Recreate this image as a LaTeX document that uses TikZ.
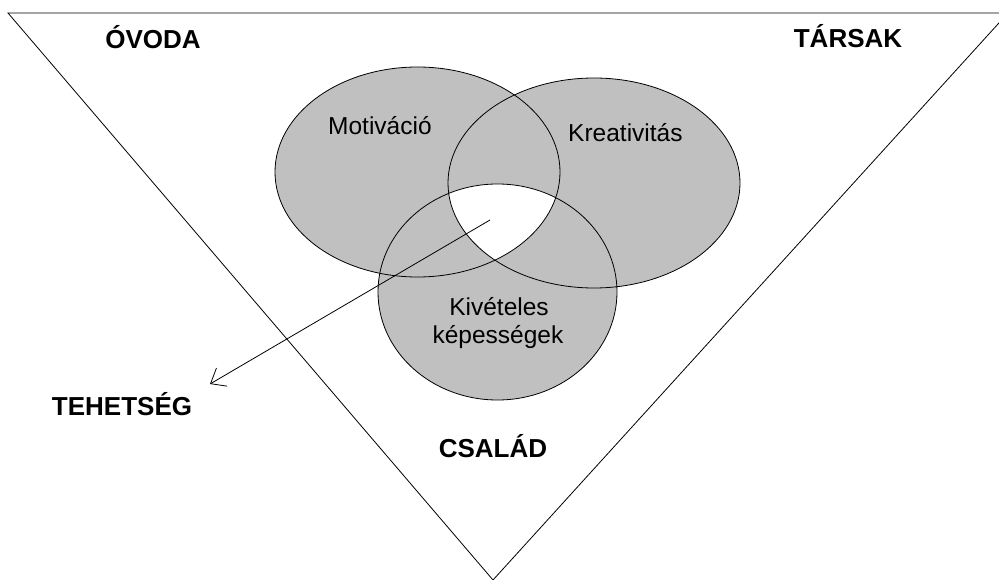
\documentclass[tikz,border=0pt]{standalone}
\usepackage{fontspec}
\setmainfont{Liberation Sans}
\usetikzlibrary{arrows.meta}
\definecolor{venngray}{HTML}{C0C0C0}
\tikzset{
  edge/.style={line width=0.8pt, draw=black},
  biglabel/.style={font=\fontsize{26}{30}\selectfont\bfseries, inner sep=0pt, anchor=base},
  smalllabel/.style={font=\fontsize{24.5}{28}\selectfont, inner sep=0pt, anchor=base},
  pointer/.style={line width=0.8pt, -{Straight Barb[length=13pt,width=21pt,line width=0.8pt]}}
}
\begin{document}
\begin{tikzpicture}[x=1pt,y=-1pt]
\useasboundingbox (0,0) rectangle (999,580);
\clip (0,0) rectangle (999,580);
\fill[white] (0,0) rectangle (999,580);
% triangle
\coordinate (L) at (8,13);
\coordinate (R) at (1008,13);
\coordinate (B) at (493,580);
\draw[edge] (L) -- (R) -- (B) -- cycle;
% ellipses
\def\ellA{(417.5,172) ellipse [x radius=142.5, y radius=105]}
\def\ellB{(594,183) ellipse [x radius=146, y radius=105]}
\def\ellC{(497.5,292) ellipse [x radius=119.5, y radius=108]}
\fill[venngray] \ellA;
\fill[venngray] \ellB;
\fill[venngray] \ellC;
\begin{scope}
  \clip \ellA;
  \clip \ellB;
  \fill[white] \ellC;
\end{scope}
\draw[edge] \ellA;
\draw[edge] \ellB;
\draw[edge] \ellC;
% labels
\node[biglabel] (ovoda) at (153,49) {ÓVODA};
\node[biglabel] (tarsak) at (848,48) {TÁRSAK};
\node[biglabel] (tehetseg) at (122,415) {TEHETSÉG};
\node[biglabel] (csalad) at (493,457) {CSALÁD};
\node[smalllabel, anchor=base west] (motiv) at (328,135) {Motiváció};
\node[smalllabel, anchor=base west] (kreat) at (568,142) {Kreativitás};
\node[smalllabel] (kiv1) at (499,315) {Kivételes};
\node[smalllabel] (kiv2) at (498,343) {képességek};
% arrow
\coordinate (arrstart) at (490,220);
\coordinate (arrend) at (210,384);
\draw[pointer] (arrstart) -- (arrend);
\end{tikzpicture}
\end{document}
